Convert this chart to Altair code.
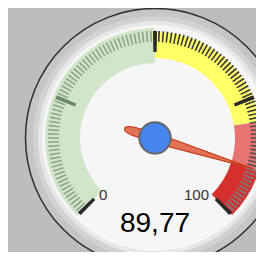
import math
import altair as alt
import numpy as np
import pandas as pd

# ---- data ----
band_from = [0, 50, 80, 90]
band_to = [50, 80, 90, 100]
major_ticks = [0, 25, 50, 75, 100]
minor_per_major = 30
label_values = [0, 100]
label_texts = ["0", "100"]
gauge_value = [89.77]
gauge_text = ["89,77"]

# ---- styles / layout ----
W, H = 248, 244
CX, CY = 147, 130
band_colors = ["#d1e5c9", "#ffff66", "#e87373", "#d4302e"]
band_r_in = [75, 80, 80, 80]
band_r_out = [110, 106, 109, 109]
THETA = alt.Scale(domain=[0, 100], range=[-0.75 * math.pi, 0.75 * math.pi])
TWO_PI = 2 * math.pi
one = pd.DataFrame({"k": [0]})

def ring(r_out, r_in, fill, stroke=None, sw=0):
    kw = dict(fill=fill)
    if stroke:
        kw.update(stroke=stroke, strokeWidth=sw)
    return alt.Chart(one).mark_arc(**kw).encode(
        x=alt.value(CX), y=alt.value(CY),
        theta=alt.value(0), theta2=alt.value(TWO_PI),
        radius=alt.value(r_out), radius2=alt.value(r_in))

layers = [
    ring(129.5, 0, "#c6c6c6", "#2e2e2e", 1.5),
    ring(122, 0, "#d2d2d2"),
    ring(117, 0, "#e7e7e7"),
    ring(113, 0, "#f6f6f6"),
]

bands = pd.DataFrame({"a": band_from, "b": band_to})
for i in range(len(band_from)):
    layers.append(
        alt.Chart(bands.iloc[[i]]).mark_arc(fill=band_colors[i]).encode(
            x=alt.value(CX), y=alt.value(CY),
            theta=alt.Theta("a:Q", scale=THETA, stack=None),
            theta2="b:Q",
            radius=alt.value(band_r_out[i]), radius2=alt.value(band_r_in[i]))
    )

step = 25 / minor_per_major
minor_vals = [k * step for k in range(4 * minor_per_major + 1) if k % minor_per_major != 0]
minor = pd.DataFrame({"v": minor_vals})
layers.append(
    alt.Chart(minor).transform_calculate(t0="datum.v - 0.17", t1="datum.v + 0.17")
    .mark_arc().encode(
        x=alt.value(CX), y=alt.value(CY),
        theta=alt.Theta("t0:Q", scale=THETA, stack=None), theta2="t1:Q",
        radius=alt.value(107), radius2=alt.value(96),
        color=alt.Color("v:Q", legend=None,
                        scale=alt.Scale(type="threshold", domain=[50, 80, 90],
                                        range=["#8ca787", "#3a3a3a", "#4e4e4e", "#7c7c7c"])))
)
major = pd.DataFrame({"v": major_ticks})
layers.append(
    alt.Chart(major).transform_calculate(t0="datum.v - 0.4", t1="datum.v + 0.4")
    .mark_arc().encode(
        x=alt.value(CX), y=alt.value(CY),
        theta=alt.Theta("t0:Q", scale=THETA, stack=None), theta2="t1:Q",
        radius=alt.value(107), radius2=alt.value(86),
        color=alt.Color("v:Q", legend=None,
                        scale=alt.Scale(type="threshold", domain=[1, 49],
                                        range=["#2a2a2a", "#6b8966", "#2a2a2a"])))
)

labels = pd.DataFrame({"v": label_values, "t": label_texts})
for i, (al, dx) in enumerate([("left", -3), ("right", 1)]):
    layers.append(
        alt.Chart(labels.iloc[[i]]).mark_text(
            align=al, baseline="middle", dx=dx, dy=4, fontSize=15,
            font="Liberation Sans", color="#333333").encode(
            x=alt.value(CX), y=alt.value(CY),
            theta=alt.Theta("v:Q", scale=THETA, stack=None),
            radius=alt.value(75), text="t:N")
    )

needle_path = "M0,-1 L0.048,0 L0.04,0.22 Q0.035,0.31 0,0.31 Q-0.035,0.31 -0.04,0.22 L-0.048,0 Z"
val = pd.DataFrame({"v": gauge_value, "t": gauge_text})
layers.append(
    alt.Chart(val).mark_point(shape=needle_path, filled=True, fill="#dc3912",
                              fillOpacity=0.7, stroke="#c63310", strokeWidth=1,
                              opacity=1, size=206 * 206).encode(
        x=alt.value(CX), y=alt.value(CY),
        angle=alt.Angle("v:Q", scale=alt.Scale(domain=[0, 100], range=[225, 495]), legend=None))
)
layers.append(
    alt.Chart(val).mark_point(shape="circle", filled=True, fill="#4684ee",
                              stroke="#666666", strokeWidth=2, opacity=1, size=986).encode(
        x=alt.value(CX), y=alt.value(CY))
)
layers.append(
    alt.Chart(val).mark_text(align="center", baseline="alphabetic", fontSize=28,
                             font="Liberation Sans", color="#000000").encode(
        x=alt.value(CX), y=alt.value(CY + 93.7), text="t:N")
)

chart = alt.layer(*layers).resolve_scale(color="independent").properties(
    width=W, height=H, padding=0, autosize=alt.AutoSizeParams(type="none"),
    background="#bdbdbd"
).configure_view(stroke=None)

chart.save("out.html", embed_options={"renderer": "svg", "actions": False})
